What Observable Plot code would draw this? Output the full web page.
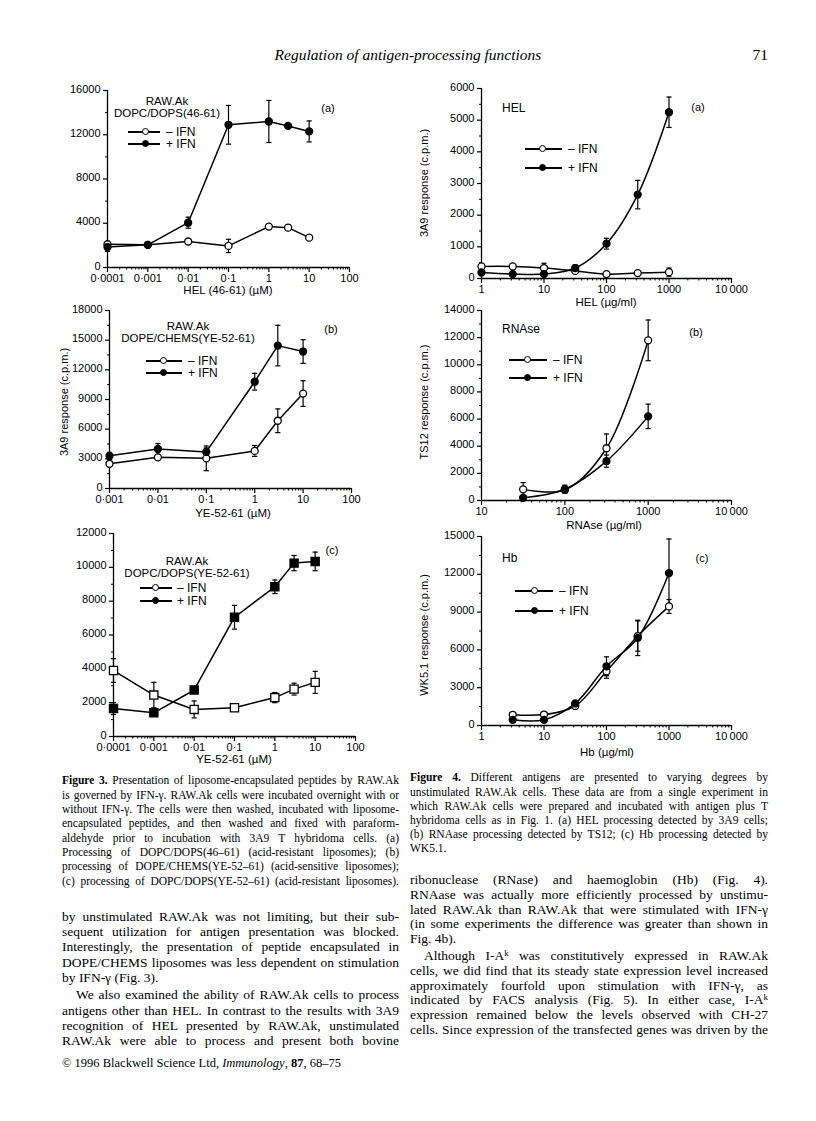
<!DOCTYPE html>
<html>
<head>
<meta charset="utf-8">
<script src="https://cdn.jsdelivr.net/npm/d3@7"></script>
<script src="https://cdn.jsdelivr.net/npm/@observablehq/plot@0.6"></script>
<style>
  html, body { margin: 0; padding: 0; background: #fff; }
  #page { position: relative; width: 816px; height: 1121px; overflow: hidden; background: #fff; color: #000; }
  .abs { position: absolute; }
  .sans { font-family: "Liberation Sans", Arial, sans-serif; }
  .serif { font-family: "Liberation Serif", "Times New Roman", serif; }
  .ctr { transform: translate(-50%, -50%); white-space: nowrap; }
  .lft { transform: translate(0, -50%); white-space: nowrap; }
  .line { white-space: nowrap; overflow: visible; }
  .sup { position: relative; top: -0.45em; font-size: 9px; line-height: 0; }
</style>
</head>
<body>
<div id="page"></div>
<script>
// ---------------- DATA ----------------
// Figure 3a  HEL (46-61) (µM)
const f3aDose = [0.0001, 0.001, 0.01, 0.1, 1, 3, 10];
const f3aMinus = [2100, 2050, 2350, 1950, 3700, 3600, 2700];
const f3aMinusErr = [0, 0, 0, 600, 0, 250, 0];
const f3aPlus = [1850, 2050, 4050, 12900, 13200, 12800, 12300];
const f3aPlusErr = [400, 0, 500, 1750, 1900, 0, 950];
const f3aYTicks = [0, 4000, 8000, 12000, 16000];
const f3aXTicks = [0.0001, 0.001, 0.01, 0.1, 1, 10, 100];
const f3aXLabels = ["0·0001", "0·001", "0·01", "0·1", "1", "10", "100"];

// Figure 3b  YE-52-61 (µM), DOPE/CHEMS
const f3bDose = [0.001, 0.01, 0.1, 1, 3, 10];
const f3bMinus = [2500, 3150, 3050, 3800, 6850, 9600];
const f3bMinusErr = [0, 0, 1250, 550, 1200, 1300];
const f3bPlus = [3300, 4000, 3700, 10800, 14450, 13850];
const f3bPlusErr = [350, 550, 400, 850, 2050, 1200];
const f3bYTicks = [0, 3000, 6000, 9000, 12000, 15000, 18000];
const f3bXTicks = [0.001, 0.01, 0.1, 1, 10, 100];
const f3bXLabels = ["0·001", "0·01", "0·1", "1", "10", "100"];

// Figure 3c  YE-52-61 (µM), DOPC/DOPS
const f3cDose = [0.0001, 0.001, 0.01, 0.1, 1, 3, 10];
const f3cMinus = [3900, 2450, 1600, 1700, 2300, 2800, 3200];
const f3cMinusErr = [700, 750, 500, 0, 300, 350, 650];
const f3cPlus = [1650, 1400, 2750, 7050, 8850, 10250, 10350];
const f3cPlusErr = [350, 0, 0, 700, 400, 450, 550];
const f3cYTicks = [0, 2000, 4000, 6000, 8000, 10000, 12000];
const f3cXTicks = [0.0001, 0.001, 0.01, 0.1, 1, 10, 100];
const f3cXLabels = ["0·0001", "0·001", "0·01", "0·1", "1", "10", "100"];

// Figure 4a  HEL (µg/ml)
const f4aDose = [1, 3.16, 10, 31.6, 100, 316, 1000];
const f4aMinus = [380, 380, 330, 240, 140, 170, 200];
const f4aMinusErr = [0, 0, 150, 0, 0, 0, 130];
const f4aPlus = [190, 140, 140, 330, 1100, 2650, 5250];
const f4aPlusErr = [0, 0, 0, 100, 170, 450, 480];
const f4aYTicks = [0, 1000, 2000, 3000, 4000, 5000, 6000];
const f4aXTicks = [1, 10, 100, 1000, 10000];
const f4aXLabels = ["1", "10", "100", "1000", "10\u2009000"];

// Figure 4b  RNAse (µg/ml)
const f4bDose = [31.6, 100, 316, 1000];
const f4bMinus = [820, 780, 3850, 11800];
const f4bMinusErr = [500, 0, 1050, 1500];
const f4bPlus = [200, 830, 2900, 6200];
const f4bPlusErr = [0, 300, 450, 900];
const f4bYTicks = [0, 2000, 4000, 6000, 8000, 10000, 12000, 14000];
const f4bXTicks = [10, 100, 1000, 10000];
const f4bXLabels = ["10", "100", "1000", "10\u2009000"];

// Figure 4c  Hb (µg/ml)
const f4cDose = [3.16, 10, 31.6, 100, 316, 1000];
const f4cMinus = [850, 870, 1550, 4300, 7100, 9450];
const f4cMinusErr = [0, 0, 0, 550, 1200, 550];
const f4cPlus = [450, 450, 1750, 4700, 6950, 12100];
const f4cPlusErr = [0, 0, 0, 750, 1400, 2700];
const f4cYTicks = [0, 3000, 6000, 9000, 12000, 15000];
const f4cXTicks = [1, 10, 100, 1000, 10000];
const f4cXLabels = ["1", "10", "100", "1000", "10\u2009000"];

const seriesNames = ["\u2013 IFN", "+ IFN"];

// ---------------- HELPERS ----------------
const page = document.getElementById("page");

function addDiv(html, left, top, cls, styles) {
  const d = document.createElement("div");
  d.className = "abs " + (cls || "");
  d.innerHTML = html;
  d.style.left = left + "px";
  d.style.top = top + "px";
  Object.assign(d.style, styles || {});
  page.appendChild(d);
  return d;
}

const capSymbol = {
  draw(ctx, size) {
    const r = Math.sqrt(size / Math.PI);
    ctx.moveTo(-r, 0);
    ctx.lineTo(r, 0);
  }
};

function drawChart(c) {
  const ml = 46, mr = 24, mt = 14, mb = 26;
  const w = c.x1 - c.x0, h = c.yBot - c.yTop;
  const minus = c.dose.map((d, i) => ({dose: d, v: c.minus[i], e: c.minusErr[i]}));
  const plus = c.dose.map((d, i) => ({dose: d, v: c.plus[i], e: c.plusErr[i]}));
  const errs = minus.concat(plus).filter(d => d.e > 0);
  const xMinor = [];
  for (let dec = c.xTicks[0]; dec < c.xTicks[c.xTicks.length - 1] * 0.99; dec *= 10) {
    for (let k = 2; k <= 9; k++) xMinor.push(k * dec);
  }
  const yMinor = c.yTicks.slice(1).map((t, i) => (t + c.yTicks[i]) / 2);
  const xFmt = new Map(c.xTicks.map((t, i) => [t, c.xLabels[i]]));
  const sym = c.square ? "square" : "circle";
  const r = c.square ? 4.6 : 3.5;
  const curve = c.curve || "linear";
  const blank = () => "";
  const plot = Plot.plot({
    width: w + ml + mr,
    height: h + mt + mb,
    marginLeft: ml, marginRight: mr, marginTop: mt, marginBottom: mb,
    x: {type: "log", domain: [c.xTicks[0], c.xTicks[c.xTicks.length - 1]]},
    y: {domain: [0, c.yTicks[c.yTicks.length - 1]]},
    style: {
      fontFamily: "'Liberation Sans', Arial, sans-serif",
      fontSize: "11px",
      color: "black",
      background: "transparent",
      overflow: "visible"
    },
    marks: [
      Plot.ruleY([0], {stroke: "black", strokeWidth: 1.3}),
      Plot.ruleX([c.xTicks[0]], {stroke: "black", strokeWidth: 1.3}),
      // y ticks and labels
      Plot.axisY({ticks: c.yTicks, tickSize: 4, tickFormat: blank, label: null, strokeWidth: 1.2}),
      Plot.axisY({ticks: yMinor, tickSize: 2, tickFormat: blank, label: null}),
      Plot.axisY({ticks: c.yTicks, tickSize: 0, tickPadding: 7, dy: -1.5, tickFormat: d3.format("d"), label: null}),
      // x ticks and labels
      Plot.axisX({ticks: c.xTicks, tickSize: 5, tickFormat: blank, label: null, strokeWidth: 1.2}),
      Plot.axisX({ticks: xMinor, tickSize: 2.5, tickFormat: blank, label: null}),
      Plot.axisX({ticks: c.xTicks, tickSize: 0, tickPadding: 7, tickFormat: d => xFmt.get(d), label: null}),
      // data
      Plot.line(minus, {x: "dose", y: "v", curve, stroke: "black", strokeWidth: 1.5}),
      Plot.line(plus, {x: "dose", y: "v", curve, stroke: "black", strokeWidth: 1.5}),
      Plot.ruleX(errs, {x: "dose", y1: d => d.v - d.e, y2: d => d.v + d.e, stroke: "black", strokeWidth: 1.2}),
      Plot.dot(errs, {x: "dose", y: d => d.v + d.e, symbol: capSymbol, r: 2.6, fill: "none", stroke: "black", strokeWidth: 1.2}),
      Plot.dot(errs, {x: "dose", y: d => d.v - d.e, symbol: capSymbol, r: 2.6, fill: "none", stroke: "black", strokeWidth: 1.2}),
      Plot.dot(minus, {x: "dose", y: "v", symbol: sym, r, fill: "white", stroke: "black", strokeWidth: 1.3}),
      Plot.dot(plus, {x: "dose", y: "v", symbol: sym, r, fill: "black", stroke: "black", strokeWidth: 1.3})
    ]
  });
  const holder = addDiv("", c.x0 - ml, c.yTop - mt, "");
  holder.appendChild(plot);
}

function legend(lx1, lx2, cx, tx, y1, y2) {
  [[y1, "white", seriesNames[0]], [y2, "black", seriesNames[1]]].forEach(([y, fill, label]) => {
    addDiv("", lx1, y - 0.75, "", {width: (lx2 - lx1) + "px", height: "1.5px", background: "black"});
    addDiv("", cx - 3.6, y - 3.6, "", {width: "5px", height: "5px", borderRadius: "50%",
      border: "1.3px solid black", background: fill});
    addDiv(label, tx, y, "sans lft", {fontSize: "12px"});
  });
}

function textLine(html, left, cy, width, size, lh, opts) {
  opts = opts || {};
  const d = addDiv("<span>" + html + "</span>", left, cy - lh / 2, "serif line",
    {fontSize: size + "px", lineHeight: lh + "px", height: lh + "px", width: width + "px"});
  const span = d.firstChild;
  const nat = span.getBoundingClientRect().width;
  if (nat > width) {
    const n = span.textContent.length;
    d.style.letterSpacing = ((width - nat) / n) + "px";
  } else if (opts.justify) {
    const spaces = span.textContent.split(" ").length - 1;
    if (spaces > 0) d.style.wordSpacing = ((width - nat) / spaces) + "px";
  }
  return d;
}

function paragraph(lines, left, y0, step, width, size, indentLines, lastLines, breaks) {
  let y = y0;
  const lh = Math.min(size + 2, step - 0.8);
  lines.forEach((ln, i) => {
    if (breaks && breaks.includes(i)) y += 2;
    const ind = indentLines.includes(i) ? 14 : 0;
    textLine(ln, left + ind, y, width - ind, size, lh, {justify: !lastLines.includes(i)});
    y += step;
  });
}

// ---------------- HEADER ----------------
addDiv("<i>Regulation of antigen-processing functions</i>", 408, 55, "serif ctr", {fontSize: "15.5px"});
addDiv("71", 768, 55, "serif", {fontSize: "15.5px", transform: "translate(-100%,-50%)"});

// ---------------- CHARTS ----------------
drawChart({dose: f3aDose, minus: f3aMinus, minusErr: f3aMinusErr, plus: f3aPlus, plusErr: f3aPlusErr,
  yTicks: f3aYTicks, xTicks: f3aXTicks, xLabels: f3aXLabels, x0: 107, x1: 349, yTop: 90, yBot: 267});
drawChart({dose: f3bDose, minus: f3bMinus, minusErr: f3bMinusErr, plus: f3bPlus, plusErr: f3bPlusErr,
  yTicks: f3bYTicks, xTicks: f3bXTicks, xLabels: f3bXLabels, x0: 109, x1: 351, yTop: 310, yBot: 488});
drawChart({dose: f3cDose, minus: f3cMinus, minusErr: f3cMinusErr, plus: f3cPlus, plusErr: f3cPlusErr,
  yTicks: f3cYTicks, xTicks: f3cXTicks, xLabels: f3cXLabels, x0: 113, x1: 355, yTop: 533, yBot: 736, square: true});
drawChart({dose: f4aDose, minus: f4aMinus, minusErr: f4aMinusErr, plus: f4aPlus, plusErr: f4aPlusErr,
  yTicks: f4aYTicks, xTicks: f4aXTicks, xLabels: f4aXLabels, x0: 481, x1: 731, yTop: 88, yBot: 278, curve: "catmull-rom"});
drawChart({dose: f4bDose, minus: f4bMinus, minusErr: f4bMinusErr, plus: f4bPlus, plusErr: f4bPlusErr,
  yTicks: f4bYTicks, xTicks: f4bXTicks, xLabels: f4bXLabels, x0: 481, x1: 731, yTop: 310, yBot: 500, curve: "catmull-rom"});
drawChart({dose: f4cDose, minus: f4cMinus, minusErr: f4cMinusErr, plus: f4cPlus, plusErr: f4cPlusErr,
  yTicks: f4cYTicks, xTicks: f4cXTicks, xLabels: f4cXLabels, x0: 481, x1: 731, yTop: 536, yBot: 725, curve: "catmull-rom"});

// annotations Fig 3
addDiv("RAW.Ak", 167, 101, "sans ctr", {fontSize: "11.5px"});
addDiv("DOPC/DOPS(46-61)", 167, 112.5, "sans ctr", {fontSize: "11.5px"});
addDiv("(a)", 328, 108, "sans ctr", {fontSize: "11px"});
legend(128, 160, 146, 166, 132, 144);
addDiv("HEL (46-61) (\u00b5M)", 228, 290, "sans ctr", {fontSize: "11.5px"});

addDiv("RAW.Ak", 188, 326, "sans ctr", {fontSize: "11.5px"});
addDiv("DOPE/CHEMS(YE-52-61)", 188, 338, "sans ctr", {fontSize: "11.5px"});
addDiv("(b)", 331, 329, "sans ctr", {fontSize: "11px"});
legend(146, 182, 164, 188, 361, 373);
addDiv("YE-52-61 (\u00b5M)", 233, 513, "sans ctr", {fontSize: "11.5px"});
addDiv("3A9 response (c.p.m.)", 64, 402, "sans", {fontSize: "11px", transform: "translate(-50%,-50%) rotate(-90deg)", whiteSpace: "nowrap"});

addDiv("RAW.Ak", 187, 561, "sans ctr", {fontSize: "11.5px"});
addDiv("DOPC/DOPS(YE-52-61)", 187, 573, "sans ctr", {fontSize: "11.5px"});
addDiv("(c)", 332, 550, "sans ctr", {fontSize: "11px"});
legend(140, 172, 156, 177, 588, 601);
addDiv("YE-52-61 (\u00b5M)", 234, 758.5, "sans ctr", {fontSize: "11.5px"});

// annotations Fig 4
addDiv("HEL", 502, 108, "sans lft", {fontSize: "12px"});
addDiv("(a)", 698, 107, "sans ctr", {fontSize: "11px"});
legend(525, 562, 543, 568, 149, 168);
addDiv("HEL (\u00b5g/ml)", 606, 302, "sans ctr", {fontSize: "11.5px"});
addDiv("3A9 response (c.p.m.)", 424, 183, "sans", {fontSize: "11px", transform: "translate(-50%,-50%) rotate(-90deg)", whiteSpace: "nowrap"});

addDiv("RNAse", 502, 329, "sans lft", {fontSize: "12px"});
addDiv("(b)", 696, 332, "sans ctr", {fontSize: "11px"});
legend(509, 547, 528, 553, 360, 378);
addDiv("RNAse (\u00b5g/ml)", 604, 524.5, "sans ctr", {fontSize: "11.5px"});
addDiv("TS12 response (c.p.m.)", 424, 402, "sans", {fontSize: "11px", transform: "translate(-50%,-50%) rotate(-90deg)", whiteSpace: "nowrap"});

addDiv("Hb", 502, 558, "sans lft", {fontSize: "12px"});
addDiv("(c)", 702, 558, "sans ctr", {fontSize: "11px"});
legend(515, 553, 535, 559, 591, 611);
addDiv("Hb (\u00b5g/ml)", 607, 752, "sans ctr", {fontSize: "11.5px"});
addDiv("WK5.1 response (c.p.m.)", 424, 635, "sans", {fontSize: "11px", transform: "translate(-50%,-50%) rotate(-90deg)", whiteSpace: "nowrap"});

// ---------------- TEXT ----------------
const cap3 = [
  "<b>Figure 3.</b> Presentation of liposome-encapsulated peptides by RAW.Ak",
  "is governed by IFN-\u03b3. RAW.Ak cells were incubated overnight with or",
  "without IFN-\u03b3. The cells were then washed, incubated with liposome-",
  "encapsulated peptides, and then washed and fixed with paraform-",
  "aldehyde prior to incubation with 3A9 T hybridoma cells. (a)",
  "Processing of DOPC/DOPS(46\u201361) (acid-resistant liposomes); (b)",
  "processing of DOPE/CHEMS(YE-52\u201361) (acid-sensitive liposomes);",
  "(c) processing of DOPC/DOPS(YE-52\u201361) (acid-resistant liposomes)."
];
paragraph(cap3, 62, 781, 14.35, 337, 11.5, [], [], []);

const body3 = [
  "by unstimulated RAW.Ak was not limiting, but their sub-",
  "sequent utilization for antigen presentation was blocked.",
  "Interestingly, the presentation of peptide encapsulated in",
  "DOPE/CHEMS liposomes was less dependent on stimulation",
  "by IFN-\u03b3 (Fig. 3).",
  "We also examined the ability of RAW.Ak cells to process",
  "antigens other than HEL. In contrast to the results with 3A9",
  "recognition of HEL presented by RAW.Ak, unstimulated",
  "RAW.Ak were able to process and present both bovine"
];
paragraph(body3, 62, 917, 15.3, 337, 13.5, [5], [4], [5]);

addDiv("\u00a9 1996 Blackwell Science Ltd, <i>Immunology</i>, <b>87</b>, 68\u201375", 62, 1063, "serif lft", {fontSize: "12.5px"});

const cap4 = [
  "<b>Figure 4.</b> Different antigens are presented to varying degrees by",
  "unstimulated RAW.Ak cells. These data are from a single experiment in",
  "which RAW.Ak cells were prepared and incubated with antigen plus T",
  "hybridoma cells as in Fig. 1. (a) HEL processing detected by 3A9 cells;",
  "(b) RNAase processing detected by TS12; (c) Hb processing detected by",
  "WK5.1."
];
paragraph(cap4, 410, 778, 14.2, 358, 11.5, [], [5], []);

const body4 = [
  "ribonuclease (RNase) and haemoglobin (Hb) (Fig. 4).",
  "RNAase was actually more efficiently processed by unstimu-",
  "lated RAW.Ak than RAW.Ak that were stimulated with IFN-\u03b3",
  "(in some experiments the difference was greater than shown in",
  "Fig. 4b).",
  "Although I-A<span class='sup'>k</span> was constitutively expressed in RAW.Ak",
  "cells, we did find that its steady state expression level increased",
  "approximately fourfold upon stimulation with IFN-\u03b3, as",
  "indicated by FACS analysis (Fig. 5). In either case, I-A<span class='sup'>k</span>",
  "expression remained below the levels observed with CH-27",
  "cells. Since expression of the transfected genes was driven by the"
];
paragraph(body4, 410, 880, 14.8, 358, 13.5, [5], [4], [5]);
</script>
</body>
</html>
